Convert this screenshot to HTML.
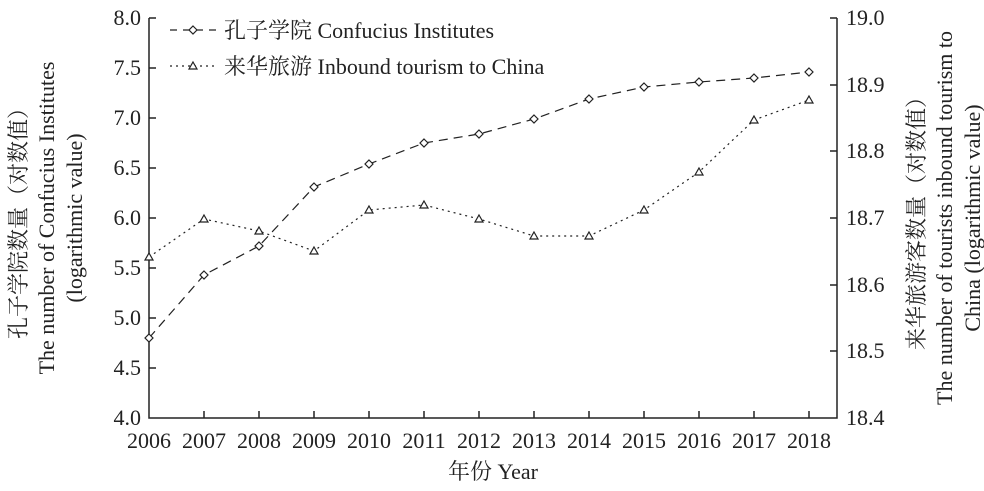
<!DOCTYPE html><html><head><meta charset="utf-8"><style>body{margin:0;background:#fff}</style></head><body>
<svg width="984" height="486" xmlns="http://www.w3.org/2000/svg" font-family="Liberation Serif, Noto Serif CJK SC, serif" font-size="21" fill="#222">
<g stroke="#222" stroke-width="1.5" fill="none">
<polyline points="149,18 149,418 837,418 837,18"/>
<line x1="149" y1="18" x2="156" y2="18"/><line x1="149" y1="68" x2="156" y2="68"/><line x1="149" y1="118" x2="156" y2="118"/><line x1="149" y1="168" x2="156" y2="168"/><line x1="149" y1="218" x2="156" y2="218"/><line x1="149" y1="268" x2="156" y2="268"/><line x1="149" y1="318" x2="156" y2="318"/><line x1="149" y1="368" x2="156" y2="368"/>
<line x1="830" y1="18" x2="837" y2="18"/><line x1="830" y1="85" x2="837" y2="85"/><line x1="830" y1="151" x2="837" y2="151"/><line x1="830" y1="218" x2="837" y2="218"/><line x1="830" y1="285" x2="837" y2="285"/><line x1="830" y1="351" x2="837" y2="351"/>
<path d="M204 418v-7M259 418v-7M314 418v-7M369 418v-7M424 418v-7M479 418v-7M534 418v-7M589 418v-7M644 418v-7M699 418v-7M754 418v-7M809 418v-7"/>
</g>
<g stroke="#222" stroke-width="1.2" fill="none">
<polyline stroke-dasharray="9,6" points="149,338 204,275 259,246 314,187 369,164 424,143 479,134 534,119 589,99 644,87 699,82 754,78 809,72"/>
<polyline stroke-dasharray="2,4" points="149,257 204,219 259,231 314,251 369,210 424,205 479,219 534,236 589,236 644,210 699,172 754,120 809,100"/>
<g fill="#fff">
<path d="M149 334l4 4-4 4-4-4zM204 271l4 4-4 4-4-4zM259 242l4 4-4 4-4-4zM314 183l4 4-4 4-4-4zM369 160l4 4-4 4-4-4zM424 139l4 4-4 4-4-4zM479 130l4 4-4 4-4-4zM534 115l4 4-4 4-4-4zM589 95l4 4-4 4-4-4zM644 83l4 4-4 4-4-4zM699 78l4 4-4 4-4-4zM754 74l4 4-4 4-4-4zM809 68l4 4-4 4-4-4z"/>
<path d="M149 253l4 7h-8zM204 215l4 7h-8zM259 227l4 7h-8zM314 247l4 7h-8zM369 206l4 7h-8zM424 201l4 7h-8zM479 215l4 7h-8zM534 232l4 7h-8zM589 232l4 7h-8zM644 206l4 7h-8zM699 168l4 7h-8zM754 116l4 7h-8zM809 96l4 7h-8z"/>
<line x1="170" y1="30" x2="218" y2="30" stroke-dasharray="7,6"/><path d="M193 26l4 4-4 4-4-4z"/>
<line x1="170" y1="66" x2="218" y2="66" stroke-dasharray="2,4"/><path d="M193 62l4 7h-8z"/>
</g></g>
<g font-size="22">
<text x="224" y="38">孔子学院 Confucius Institutes</text>
<text x="224" y="74">来华旅游 Inbound tourism to China</text>
<g text-anchor="end"><text x="141" y="25">8.0</text><text x="141" y="75">7.5</text><text x="141" y="125">7.0</text><text x="141" y="175">6.5</text><text x="141" y="225">6.0</text><text x="141" y="275">5.5</text><text x="141" y="325">5.0</text><text x="141" y="375">4.5</text><text x="141" y="425">4.0</text></g>
<g><text x="846" y="25">19.0</text><text x="846" y="92">18.9</text><text x="846" y="158">18.8</text><text x="846" y="225">18.7</text><text x="846" y="292">18.6</text><text x="846" y="358">18.5</text><text x="846" y="425">18.4</text></g>
<g text-anchor="middle"><text x="149" y="448">2006</text><text x="204" y="448">2007</text><text x="259" y="448">2008</text><text x="314" y="448">2009</text><text x="369" y="448">2010</text><text x="424" y="448">2011</text><text x="479" y="448">2012</text><text x="534" y="448">2013</text><text x="589" y="448">2014</text><text x="644" y="448">2015</text><text x="699" y="448">2016</text><text x="754" y="448">2017</text><text x="809" y="448">2018</text>
<text x="493" y="479">年份 Year</text>
<g transform="translate(26,218) rotate(-90)"><text>孔子学院数量（对数值）</text><text y="28">The number of Confucius Institutes</text><text y="56">(logarithmic value)</text></g>
<g transform="translate(924,218) rotate(-90)"><text>来华旅游客数量（对数值）</text><text y="28">The number of tourists inbound tourism to</text><text y="56">China (logarithmic value)</text></g>
</g></g>
</svg></body></html>
